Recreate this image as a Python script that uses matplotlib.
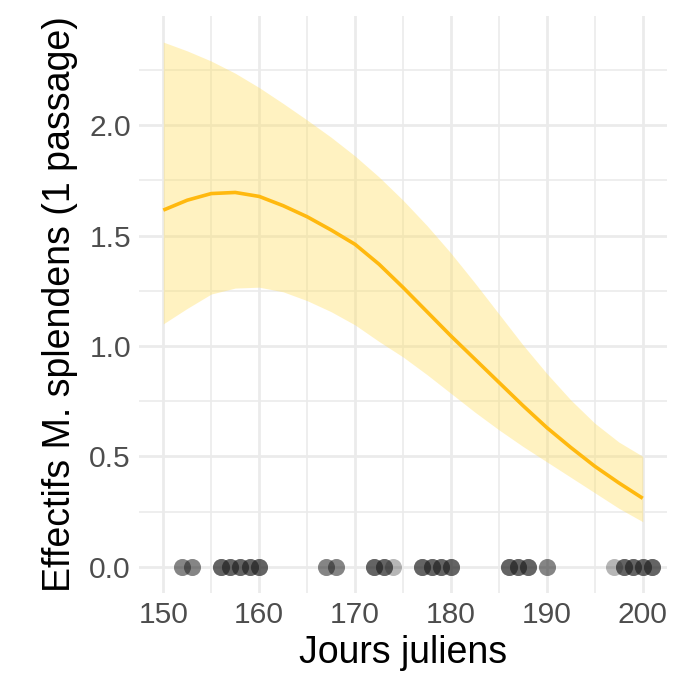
import numpy as np
import matplotlib
matplotlib.use("Agg")
import matplotlib.pyplot as plt
from matplotlib.ticker import MultipleLocator

plt.rcParams['font.family'] = ['Liberation Sans', 'DejaVu Sans']

# fitted curve and confidence band
jours = [150, 152.5, 155, 157.5, 160, 162.5, 165, 167.5, 170, 172.5, 175,
         177.5, 180, 182.5, 185, 187.5, 190, 192.5, 195, 197.5, 200]
fit = [1.615, 1.66, 1.69, 1.695, 1.677, 1.635, 1.585, 1.525, 1.46, 1.37, 1.265,
       1.155, 1.045, 0.94, 0.835, 0.73, 0.63, 0.54, 0.455, 0.38, 0.31]
upper = [2.376, 2.336, 2.29, 2.235, 2.17, 2.098, 2.023, 1.945, 1.86, 1.765, 1.66,
         1.545, 1.42, 1.285, 1.145, 1.005, 0.875, 0.755, 0.65, 0.565, 0.50]
lower = [1.10, 1.17, 1.235, 1.262, 1.266, 1.245, 1.205, 1.155, 1.095, 1.02, 0.95,
         0.87, 0.785, 0.70, 0.62, 0.545, 0.475, 0.405, 0.335, 0.265, 0.204]

# observed counts (all zero) and number of overlapping observations per day
obs_jour = [152, 153, 156, 157, 158, 159, 160, 167, 168, 172, 173, 174,
            177, 178, 179, 180, 186, 187, 188, 190, 197, 198, 199, 200, 201]
obs_n = [2, 2, 3, 3, 3, 3, 3, 2, 2, 3, 3, 1,
         3, 3, 3, 3, 3, 3, 3, 2, 1, 3, 3, 3, 3]
obs_val = [0] * len(obs_jour)

fig = plt.figure(figsize=(6.82, 6.99), dpi=100)
ax = fig.add_axes([0.2043, 0.1516, 0.7733, 0.8258])

ax.fill_between(jours, lower, upper, color='#FFE066', alpha=0.4, lw=0, zorder=2)
ax.plot(jours, fit, color='#FFB90F', lw=2.6, zorder=3, solid_capstyle='butt',
        solid_joinstyle='round')

xs = np.repeat(obs_jour, obs_n)
ys = np.repeat(obs_val, obs_n)
ax.scatter(xs, ys, s=150, color='#222222', alpha=0.33, lw=0, zorder=4)

ax.set_xlim(147.5, 202.5)
ax.set_ylim(-0.119, 2.495)
ax.xaxis.set_major_locator(MultipleLocator(10))
ax.xaxis.set_minor_locator(MultipleLocator(5))
ax.yaxis.set_major_locator(MultipleLocator(0.5))
ax.yaxis.set_minor_locator(MultipleLocator(0.25))
ax.yaxis.set_major_formatter(matplotlib.ticker.FormatStrFormatter('%.1f'))

ax.grid(which='major', color='#EBEBEB', lw=2.0, zorder=0)
ax.grid(which='minor', color='#EBEBEB', lw=1.2, zorder=0)
ax.set_axisbelow(True)
for sp in ax.spines.values():
    sp.set_visible(False)
ax.tick_params(which='both', length=0, labelsize=21.6, labelcolor='#4D4D4D', pad=6)

ax.set_xlabel('Jours juliens', fontsize=27, labelpad=4)
ax.set_ylabel('Effectifs M. splendens (1 passage)', fontsize=27, labelpad=8)

fig.savefig('out.png', dpi=100, facecolor='white')
